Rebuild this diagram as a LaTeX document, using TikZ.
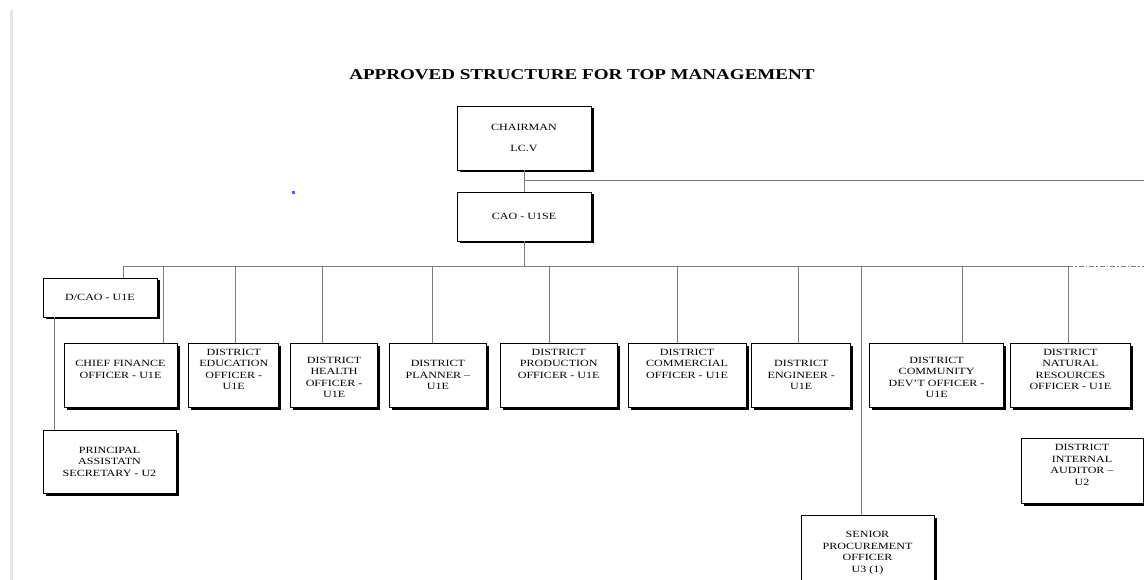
\documentclass[tikz,border=0pt]{standalone}
\usepackage{fontspec}
\setmainfont{Liberation Serif}[FakeStretch=1.27]
\usepackage{tikz}
\usetikzlibrary{positioning,shadows}
\definecolor{linkgray}{RGB}{125,125,125}
\definecolor{edgegray}{RGB}{230,230,230}
\definecolor{dotblue}{RGB}{90,90,255}

\begin{document}
\begin{tikzpicture}[
    x=1pt, y=-1pt,
    post/.style={rectangle, draw=black, line width=0.8pt, fill=white, align=center, inner sep=0pt,
        font=\fontsize{9.5}{11.5}\selectfont, minimum height=64pt,
        drop shadow={shadow xshift=2.5pt, shadow yshift=-2.5pt, fill=black, opacity=1}},
    link/.style={draw=linkgray, line width=1pt},
    node distance=11pt
]
\useasboundingbox[fill=white] (0,0) rectangle (1144,580);
\clip (0,0) rectangle (1144,580);
\fill[edgegray] (10,10) rectangle (13,580);
\fill[dotblue] (292,191) rectangle (295,194);

\node[font=\fontsize{15}{18}\selectfont\bfseries] (title) at (582,75) {APPROVED STRUCTURE FOR TOP MANAGEMENT};

% top of the tree
\node[post, minimum width=134pt] (chair) at (524,138) {CHAIRMAN\\[9.5pt]LC.V};
\node[post, minimum width=134pt, minimum height=49pt] (cao) at (524,216.5) {CAO - U1SE};
\node[post, minimum width=114pt, minimum height=39pt] (dcao) at (100,297.5) {D/CAO - U1E};

% heads of department
\node[post, minimum width=113pt] (cfo) at (120.5,375) {CHIEF FINANCE\\OFFICER - U1E\\\mbox{}};
\node[post, minimum width=90pt, right=of cfo] (edu) {DISTRICT\\EDUCATION\\OFFICER -\\U1E\\\mbox{}};
\node[post, minimum width=87pt, right=of edu] (health) {\mbox{}\\DISTRICT\\HEALTH\\OFFICER -\\U1E};
\node[post, minimum width=97pt, right=of health] (planner) {DISTRICT\\PLANNER --\\U1E};
\node[post, minimum width=117pt, right=13pt of planner] (prod) {DISTRICT\\PRODUCTION\\OFFICER - U1E\\\mbox{}\\\mbox{}};
\node[post, minimum width=118pt, right=10pt of prod] (comm) {DISTRICT\\COMMERCIAL\\OFFICER - U1E\\\mbox{}\\\mbox{}};
\node[post, minimum width=99pt, right=5pt of comm] (eng) {DISTRICT\\ENGINEER -\\U1E};
\node[post, minimum width=134pt, right=18pt of eng] (cdo) {\mbox{}\\DISTRICT\\COMMUNITY\\DEV'T OFFICER -\\U1E};
\node[post, minimum width=120pt, right=6pt of cdo] (natres) {DISTRICT\\NATURAL\\RESOURCES\\OFFICER - U1E\\\mbox{}};

% lower posts
\node[post, minimum width=133pt, minimum height=63pt] (pas) at (109.5,461.5) {PRINCIPAL\\ASSISTATN\\SECRETARY - U2};
\node[post, minimum width=122pt, minimum height=65pt] (audit) at (1082,470.5) {DISTRICT\\INTERNAL\\AUDITOR --\\U2\\\mbox{}};
\node[post, minimum width=133pt, minimum height=76pt] (spo) at (867.5,553) {SENIOR\\PROCUREMENT\\OFFICER\\U3 (1)};

\coordinate (chairend) at (1144,181);
\coordinate (hub) at (524,267);
\coordinate (busend) at (1144,267);

\draw[link] (chair) -- (cao);
\draw[link] (chair.south |- chairend) -- (chairend);
\draw[link] (cao) -- (hub);

\draw[link] ([xshift=23pt]dcao.north) |- (hub);
\draw[link] ([xshift=42.5pt]cfo.north) |- (hub);
\draw[link] ([xshift=2pt]edu.north) |- (hub);
\draw[link] ([xshift=-11.5pt]health.north) |- (hub);
\draw[link] ([xshift=-5.5pt]planner.north) |- (hub);
\draw[link] ([xshift=-9.5pt]prod.north) |- (hub);
\draw[link] ([xshift=-10pt]comm.north) |- (hub);
\draw[link] ([xshift=-2.5pt]eng.north) |- (hub);
\draw[link] ([xshift=-6.5pt]spo.north) |- (hub);
\draw[link] ([xshift=26pt]cdo.north) |- (hub);
\draw[link] ([xshift=-2pt]natres.north) |- (hub);
\draw[link, dash pattern=on 5pt off 2pt on 1.5pt off 2pt] ([xshift=-2pt]natres.north |- hub) -- (busend);

\draw[link] ([xshift=-46pt]dcao.south) -- ([xshift=-55.5pt]pas.north);
\end{tikzpicture}
\end{document}
